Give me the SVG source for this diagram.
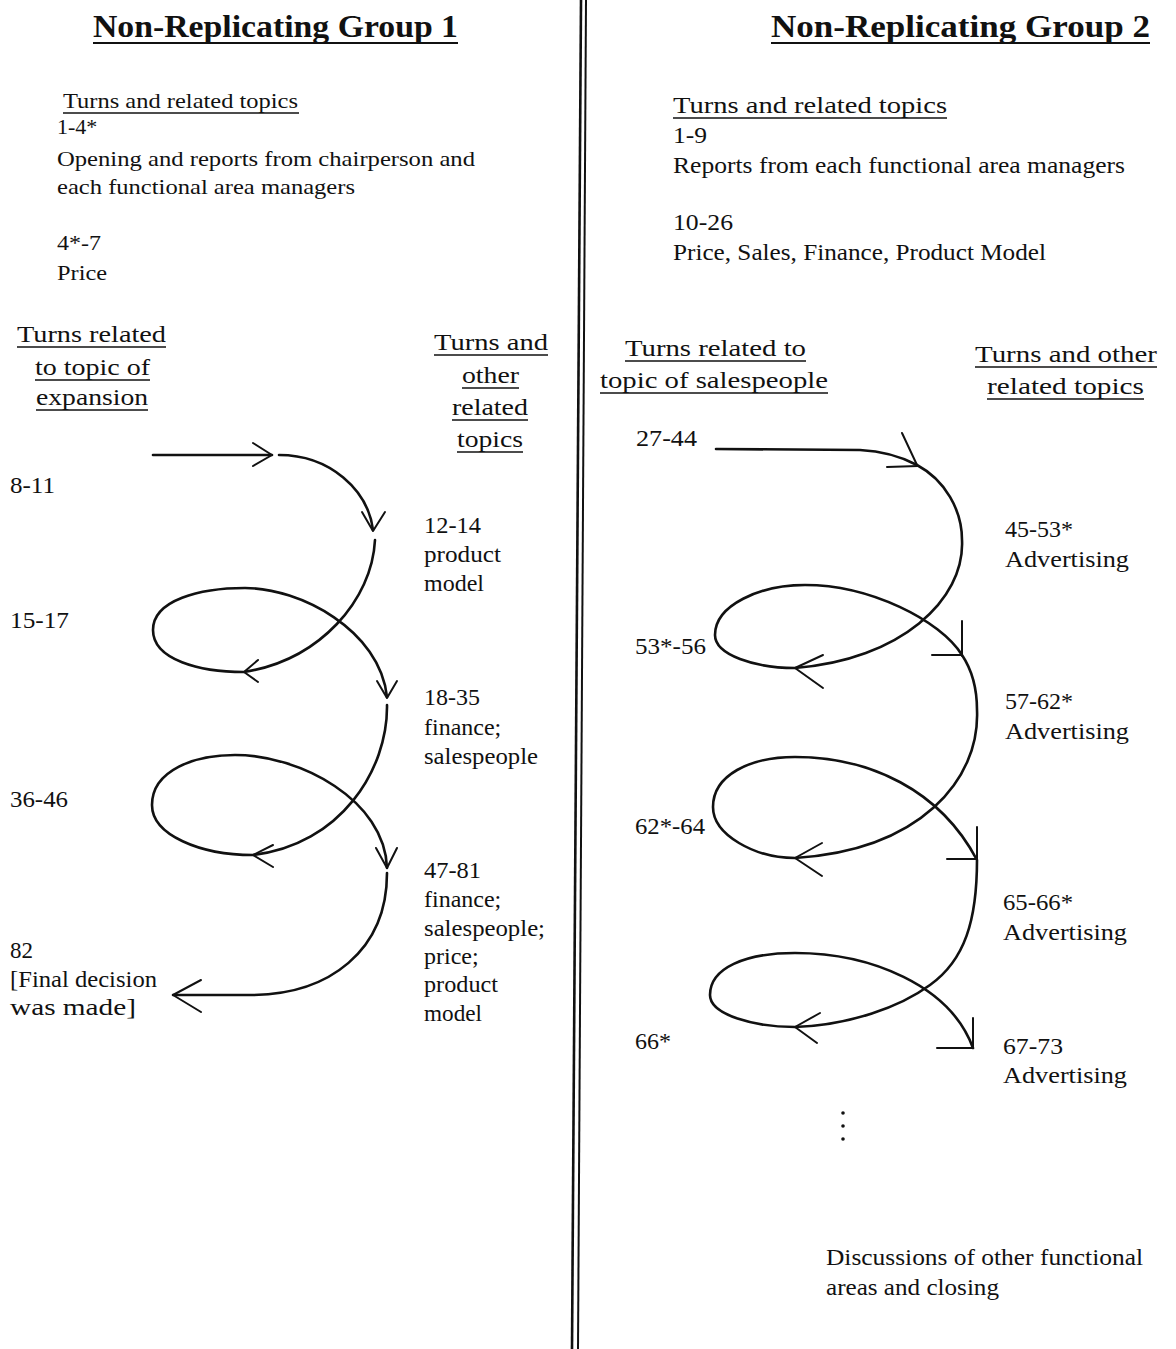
<svg xmlns="http://www.w3.org/2000/svg" width="1176" height="1349" viewBox="0 0 1176 1349">
<style>
text{font-family:"Liberation Serif","Times New Roman",serif;fill:#111;}
.t{font-size:31px;font-weight:bold;}
.s{font-size:22px;}
.r{font-size:23px;}
.l{font-size:24px;}
.u{stroke:#111;stroke-width:1.6;fill:none;}
.ut{stroke:#111;stroke-width:2.2;fill:none;}
.c{stroke:#111;stroke-width:2.6;fill:none;stroke-linecap:round;stroke-linejoin:round;}
.a{stroke:#111;stroke-width:2;fill:none;stroke-linecap:round;stroke-linejoin:round;}
.d{stroke:#111;fill:none;}
</style>
<rect width="1176" height="1349" fill="#fff"/>

<g id="divider">
<line class="d" x1="581" y1="0" x2="572" y2="1349" stroke-width="2.6"/>
<line class="d" x1="586" y1="0" x2="578" y2="1349" stroke-width="2"/>
</g>

<g id="title1">
<text class="t" x="93" y="37" textLength="365" lengthAdjust="spacingAndGlyphs">Non-Replicating Group 1</text>
<line class="ut" x1="93" y1="43" x2="458" y2="43"/>
</g>
<g id="title2">
<text class="t" x="771" y="37" textLength="379" lengthAdjust="spacingAndGlyphs">Non-Replicating Group 2</text>
<line class="ut" x1="771" y1="43" x2="1150" y2="43"/>
</g>

<g id="g1-intro">
<text class="s" x="63" y="108" textLength="235" lengthAdjust="spacingAndGlyphs">Turns and related topics</text>
<line class="u" x1="63" y1="113" x2="299" y2="113"/>
<text class="s" x="57" y="134">1-4*</text>
<text class="s" x="57" y="166" textLength="418" lengthAdjust="spacingAndGlyphs">Opening and reports from chairperson and</text>
<text class="s" x="57" y="194" textLength="298" lengthAdjust="spacingAndGlyphs">each functional area managers</text>
<text class="s" x="57" y="250" textLength="44" lengthAdjust="spacingAndGlyphs">4*-7</text>
<text class="s" x="57" y="280" textLength="50" lengthAdjust="spacingAndGlyphs">Price</text>
</g>

<g id="g2-intro">
<text class="r" x="673" y="113" textLength="274" lengthAdjust="spacingAndGlyphs">Turns and related topics</text>
<line class="u" x1="673" y1="118" x2="947" y2="118"/>
<text class="r" x="673" y="143" textLength="34" lengthAdjust="spacingAndGlyphs">1-9</text>
<text class="r" x="673" y="173" textLength="452" lengthAdjust="spacingAndGlyphs">Reports from each functional area managers</text>
<text class="r" x="673" y="230" textLength="60" lengthAdjust="spacingAndGlyphs">10-26</text>
<text class="r" x="673" y="260" textLength="373" lengthAdjust="spacingAndGlyphs">Price, Sales, Finance, Product Model</text>
</g>

<g id="g1-col-left">
<text class="l" x="17" y="342" textLength="149" lengthAdjust="spacingAndGlyphs">Turns related</text>
<line class="u" x1="17" y1="347" x2="166" y2="347"/>
<text class="l" x="35" y="375" textLength="115" lengthAdjust="spacingAndGlyphs">to topic of</text>
<line class="u" x1="35" y1="380" x2="150" y2="380"/>
<text class="l" x="36" y="405" textLength="112" lengthAdjust="spacingAndGlyphs">expansion</text>
<line class="u" x1="36" y1="410" x2="148" y2="410"/>
</g>

<g id="g1-col-right">
<text class="l" x="434" y="350" textLength="114" lengthAdjust="spacingAndGlyphs">Turns and</text>
<line class="u" x1="434" y1="355" x2="548" y2="355"/>
<text class="l" x="462" y="383" textLength="57" lengthAdjust="spacingAndGlyphs">other</text>
<line class="u" x1="462" y1="388" x2="519" y2="388"/>
<text class="l" x="452" y="415" textLength="76" lengthAdjust="spacingAndGlyphs">related</text>
<line class="u" x1="452" y1="420" x2="528" y2="420"/>
<text class="l" x="457" y="447" textLength="66" lengthAdjust="spacingAndGlyphs">topics</text>
<line class="u" x1="457" y1="452" x2="523" y2="452"/>
</g>

<g id="g2-col-left">
<text class="l" x="625" y="356" textLength="181" lengthAdjust="spacingAndGlyphs">Turns related to</text>
<line class="u" x1="625" y1="361" x2="806" y2="361"/>
<text class="l" x="600" y="388" textLength="228" lengthAdjust="spacingAndGlyphs">topic of salespeople</text>
<line class="u" x1="600" y1="393" x2="828" y2="393"/>
</g>

<g id="g2-col-right">
<text class="l" x="975" y="362" textLength="182" lengthAdjust="spacingAndGlyphs">Turns and other</text>
<line class="u" x1="975" y1="367" x2="1157" y2="367"/>
<text class="l" x="987" y="394" textLength="157" lengthAdjust="spacingAndGlyphs">related topics</text>
<line class="u" x1="987" y1="399" x2="1144" y2="399"/>
</g>

<g id="g1-labels">
<text class="l" x="10" y="493" textLength="45" lengthAdjust="spacingAndGlyphs">8-11</text>
<g id="n-12-14"><text class="l" x="424" y="533" textLength="57" lengthAdjust="spacingAndGlyphs">12-14</text><text class="l" x="424" y="562" textLength="77" lengthAdjust="spacingAndGlyphs">product</text><text class="l" x="424" y="591" textLength="60" lengthAdjust="spacingAndGlyphs">model</text></g>
<text class="l" x="10" y="628" textLength="59" lengthAdjust="spacingAndGlyphs">15-17</text>
<g id="n-18-35"><text class="l" x="424" y="705" textLength="56" lengthAdjust="spacingAndGlyphs">18-35</text><text class="l" x="424" y="735">finance;</text><text class="l" x="424" y="764" textLength="114" lengthAdjust="spacingAndGlyphs">salespeople</text></g>
<text class="l" x="10" y="807" textLength="58" lengthAdjust="spacingAndGlyphs">36-46</text>
<g id="n-47-81"><text class="l" x="424" y="878" textLength="57" lengthAdjust="spacingAndGlyphs">47-81</text><text class="l" x="424" y="907">finance;</text><text class="l" x="424" y="936" textLength="121" lengthAdjust="spacingAndGlyphs">salespeople;</text><text class="l" x="424" y="964">price;</text><text class="l" x="424" y="992" textLength="74" lengthAdjust="spacingAndGlyphs">product</text><text class="l" x="424" y="1021" textLength="58" lengthAdjust="spacingAndGlyphs">model</text></g>
<g id="n-82"><text class="l" x="10" y="958" textLength="23" lengthAdjust="spacingAndGlyphs">82</text><text class="l" x="10" y="987" textLength="147" lengthAdjust="spacingAndGlyphs">[Final decision</text><text class="l" x="10" y="1015" textLength="126" lengthAdjust="spacingAndGlyphs">was made]</text></g>
</g>

<g id="g2-labels">
<text class="l" x="636" y="446" textLength="61" lengthAdjust="spacingAndGlyphs">27-44</text>
<g id="n-45-53"><text class="l" x="1005" y="537" textLength="68" lengthAdjust="spacingAndGlyphs">45-53*</text><text class="l" x="1005" y="567" textLength="124" lengthAdjust="spacingAndGlyphs">Advertising</text></g>
<text class="l" x="635" y="654" textLength="71" lengthAdjust="spacingAndGlyphs">53*-56</text>
<g id="n-57-62"><text class="l" x="1005" y="709" textLength="68" lengthAdjust="spacingAndGlyphs">57-62*</text><text class="l" x="1005" y="739" textLength="124" lengthAdjust="spacingAndGlyphs">Advertising</text></g>
<text class="l" x="635" y="834" textLength="70" lengthAdjust="spacingAndGlyphs">62*-64</text>
<g id="n-65-66"><text class="l" x="1003" y="910" textLength="70" lengthAdjust="spacingAndGlyphs">65-66*</text><text class="l" x="1003" y="940" textLength="124" lengthAdjust="spacingAndGlyphs">Advertising</text></g>
<text class="l" x="635" y="1049">66*</text>
<g id="n-67-73"><text class="l" x="1003" y="1054" textLength="60" lengthAdjust="spacingAndGlyphs">67-73</text><text class="l" x="1003" y="1083" textLength="124" lengthAdjust="spacingAndGlyphs">Advertising</text></g>
<g id="n-closing"><text class="l" x="826" y="1265" textLength="317" lengthAdjust="spacingAndGlyphs">Discussions of other functional</text><text class="l" x="826" y="1295" textLength="173" lengthAdjust="spacingAndGlyphs">areas and closing</text></g>
<g id="ellipsis" fill="#111"><circle cx="843" cy="1113" r="1.8"/><circle cx="843" cy="1126" r="1.8"/><circle cx="843" cy="1139" r="1.8"/></g>
</g>

<g id="connectors">
<!-- left spiral -->
<path class="c" d="M153,455 L272,455"/>
<path class="a" d="M253,443 L272,455 L253,466"/>
<path class="c" d="M279,455 C330,455 368,490 373,530"/>
<path class="a" d="M362,512 L373,531 L385,512"/>
<path class="c" d="M375,540 C372,600 320,660 244,672 C200,672 153,660 153,630 C153,600 200,588 245,588 C300,588 380,630 387,697"/>
<path class="a" d="M258,660 L244,672 L258,682"/>
<path class="a" d="M377,681 L387,698 L397,681"/>
<path class="c" d="M387,705 C388,770 340,845 253,855 C200,855 152,835 152,805 C152,770 195,755 235,755 C300,755 385,800 387,868"/>
<path class="a" d="M273,845 L253,855 L273,867"/>
<path class="a" d="M376,848 L387,868 L397,848"/>
<path class="c" d="M387,873 C387,950 330,995 250,995 L173,995"/>
<path class="a" d="M201,980 L173,995 L201,1012"/>
<!-- right spiral -->
<path class="c" d="M716,449 L860,450 C880,451 900,456 917,465 C945,480 962,510 962,540 C965,600 900,660 795,668 C755,668 715,655 715,635 C715,605 760,585 805,585 C870,585 940,620 962,655 C972,670 977,690 977,710 C980,780 920,850 795,858 C755,858 713,835 713,807 C713,775 750,757 795,757 C870,757 940,790 977,860 C977,920 965,960 930,985 C900,1007 850,1025 795,1027 C755,1027 710,1015 710,995 C710,968 745,953 795,953 C870,953 950,985 973,1048"/>
<path class="a" d="M902,433 L917,465 M887,467 L918,466"/>
<path class="a" d="M823,655 L795,668 L823,688"/>
<path class="a" d="M962,621 L962,656 M932,655 L962,655"/>
<path class="a" d="M822,843 L795,858 L822,876"/>
<path class="a" d="M977,827 L977,860 M947,859 L977,859"/>
<path class="a" d="M820,1013 L795,1027 L817,1043"/>
<path class="a" d="M973,1018 L973,1048 M937,1048 L973,1048"/>
</g>
</svg>
